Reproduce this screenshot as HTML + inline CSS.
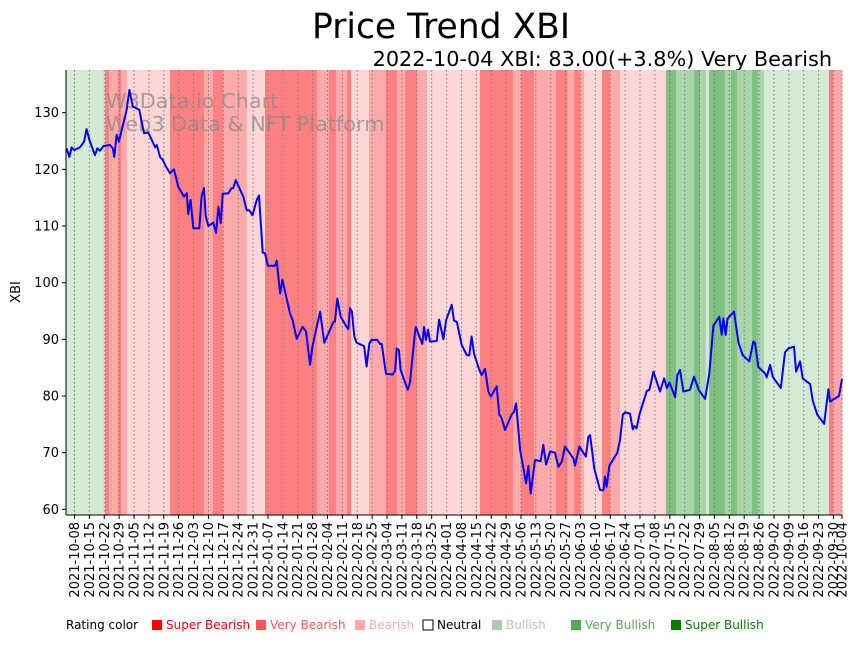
<!DOCTYPE html>
<html><head><meta charset="utf-8"><style>
body{margin:0;background:#fff;}
svg text{font-family:"DejaVu Sans","Liberation Sans",sans-serif;}
</style></head><body>
<svg id="chart" width="860" height="641" xmlns="http://www.w3.org/2000/svg">
<text x="441" y="38" text-anchor="middle" font-size="34.5">Price Trend XBI</text>
<text x="832" y="66" text-anchor="end" font-size="20.8">2022-10-04 XBI: 83.00(+3.8%) Very Bearish</text>
<g id="bands"></g>
<g id="grid"></g>
<text x="106" y="108" font-size="20.8" fill="#888" fill-opacity="0.75">W3Data.io Chart</text>
<text x="106" y="131" font-size="20.8" fill="#888" fill-opacity="0.75">Web3 Data &amp; NFT Platform</text>
<path id="line" fill="none" stroke="#0000ff" stroke-width="2" stroke-linejoin="round"/>
<g id="axes"></g>
<text transform="translate(20,292) rotate(-90)" text-anchor="middle" font-size="13">XBI</text>
<g id="legend">
<text x="66" y="629" font-size="12">Rating color</text>
</g>
</svg>
<script>
const bandStart=[0,18.3,20.2,24.5,25.9,28.7,48.9,64.9,69.1,73.9,85.1,93.6,118.1,123.7,127,132.2,134.1,142.5,150.5,155.7,159.5,165.1,169.8,194.7,210.3,214,220.2,230.5,235.9,238.9,241.8,243.7,252.1,255.9,260.6,282.2,286.9,295.4,298.2,301,302.5,310,312.8,315.6,322.7,325.5,328.3,358.9,360.8];
const bandLevel=[4,0,1,0,1,2,0,1,0,1,2,0,1,0,1,0,2,1,0,1,0,1,2,0,1,0,1,0,1,0,1,2,0,1,2,6,5,6,5,4,6,5,6,5,6,5,4,0,1];
const levelColors=["#ff8080","#ffaaaa","#ffd5d5","#ffffff","#d5ead5","#aad5aa","#80c080"];
const priceDays=[0.3,1.6,2.7,3.8,6.6,8.5,9.7,11,13.6,14.7,16,17.6,20.7,22,22.7,23.8,24.9,27,28.5,29.8,31.4,34.5,36.7,38.7,41.9,42.7,44.2,45.5,47,48.9,50.8,52.8,55.5,56.8,57.5,58.6,59.9,62.7,63.8,64.9,65.7,67,69.3,70.6,71.7,72.8,73.7,76.4,77.9,78.7,79.8,83.4,85,86.2,87.7,89.7,90.8,92.5,93.6,94.9,98.3,99.1,100.7,101.8,105.4,106.6,108.5,111.3,112.9,114.8,115.9,119.5,121.5,125.8,126.5,127.6,129.2,132,132.8,133.6,134.5,135.6,136.7,140.2,141.4,142.7,143.8,146.4,147.7,148.5,150.5,153.7,154.8,155.5,156.6,157.4,160.7,161.8,164.2,164.6,166.2,167.6,168.4,169.3,170.3,171.2,174.4,175.5,177.5,178.8,181.4,182.5,183.8,186.1,188.5,189.7,190.8,191.9,194.4,195.5,197.1,198.7,199.8,202.6,203.8,204.9,206.5,209.6,210.7,211.7,213.6,216.4,217.5,218.6,220.6,223.3,224.5,225.8,227.7,230,231.6,233.2,234.7,238.6,239.4,241.5,244.5,245.7,246.5,248.5,251.2,252.8,253.5,254.3,255.6,259.3,260.6,261.9,263,265.3,266.6,267.2,268.4,269.7,273.2,274.4,276.3,279.4,281.3,282.6,283.8,286.5,287.6,288.8,290.4,293.5,295.4,297.6,300.6,302.6,304.5,307.3,308.4,309.2,310.3,311.2,314.2,316.3,318.3,321.4,323.3,324.1,325.7,328.8,329.6,331.2,332.4,336.2,338.2,339.8,342.4,343.4,345.3,346.5,350,351.2,353.4,356.6,358.6,359.4,361,363.6,365];
const priceValues=[123.7,122.2,123.9,123.4,123.9,124.9,127.1,125.2,122.5,123.7,123.3,124.1,124.3,123.7,122.2,126.1,124.9,128.1,130.5,134,131.1,130.5,126.4,126.5,123.9,124.3,122.2,121.7,120.5,119.3,120,116.9,115.2,115.8,112.1,114.6,109.6,109.6,115.2,116.7,111.7,110,110.6,108.8,113.4,110.5,115.7,115.8,116.7,116.7,118.1,115.2,112.8,112.8,111.9,114.6,115.4,105.3,105.2,103,103,103.9,98.1,100.5,94.5,93.4,90.1,92.2,91.4,85.5,88.7,94.9,89.4,93.1,93.1,97.2,94,92.2,91.8,95.5,94.9,90.5,89.4,88.8,85.2,89.3,89.9,89.9,89.2,89.2,83.9,83.8,84.5,88.4,88.1,84.6,81.1,82.4,91.4,92.2,90.5,89.2,92.2,89.9,91.7,89.6,89.7,93.5,90,93.4,96.1,93.3,93.1,89,87.2,87.2,90.5,87.5,84.6,83.7,84.8,80.8,79.9,81.7,76.7,76.1,74,76.7,77.2,78.7,70.5,64.6,67.7,62.8,68.7,68.5,71.4,67.9,70.2,70,67.5,68.4,71.1,69,67.7,71.1,69.3,72.8,73.1,67.2,63.4,63.4,65.8,64,67.7,70,72.2,76.7,77.1,76.9,74.1,74.7,74.3,76.7,80.9,81.1,84.3,80.8,83.1,81.4,82.4,79.8,83.7,84.6,80.8,81.1,83.4,81.1,79.5,84,92.4,94,90.8,93.7,90.8,93.7,94.9,89.4,87.2,86.1,89.6,89.4,85.1,84,83.3,85.5,83.4,81.4,87.7,88.4,88.7,84.3,86.1,83.1,82.1,79.2,76.7,75.1,81.2,79,79.4,80,83];
const xTickLabels=["2021-10-08","2021-10-15","2021-10-22","2021-10-29","2021-11-05","2021-11-12","2021-11-19","2021-11-26","2021-12-03","2021-12-10","2021-12-17","2021-12-24","2021-12-31","2022-01-07","2022-01-14","2022-01-21","2022-01-28","2022-02-04","2022-02-11","2022-02-18","2022-02-25","2022-03-04","2022-03-11","2022-03-18","2022-03-25","2022-04-01","2022-04-08","2022-04-15","2022-04-22","2022-04-29","2022-05-06","2022-05-13","2022-05-20","2022-05-27","2022-06-03","2022-06-10","2022-06-17","2022-06-24","2022-07-01","2022-07-08","2022-07-15","2022-07-22","2022-07-29","2022-08-05","2022-08-12","2022-08-19","2022-08-26","2022-09-02","2022-09-09","2022-09-16","2022-09-23","2022-09-30","2022-10-04"];
const yTicks=[60,70,80,90,100,110,120,130];
const legendLabels=["Super Bearish","Very Bearish","Bearish","Neutral","Bullish","Very Bullish","Super Bullish"];
const legendColors=["#ff0000","#ff5555","#ffaaaa","#ffffff","#aaccaa","#55aa55","#008000"];

const NS="http://www.w3.org/2000/svg";
const X0=66,X1=842,Y0=70,Y1=515,DAYS=365;
const startDate=Date.UTC(2021,9,4);
const xs=d=>X0+d*(X1-X0)/DAYS;
const ys=p=>112.7+(130-p)*5.666;
function mk(tag,attrs,parent){const e=document.createElementNS(NS,tag);for(const k in attrs)e.setAttribute(k,attrs[k]);parent.appendChild(e);return e;}

const bands=document.getElementById('bands');
bandStart.forEach((s,i)=>{
  const e=i+1<bandStart.length?bandStart[i+1]:DAYS;
  const r=mk('rect',{x:xs(s),y:Y0,width:xs(e)-xs(s)+0.3,height:Y1-Y0,fill:levelColors[bandLevel[i]]},bands);
  
  
});

const grid=document.getElementById('grid'),axes=document.getElementById('axes');
xTickLabels.forEach(lbl=>{
  const d=(Date.parse(lbl+"T00:00:00Z")-startDate)/86400000;
  const x=xs(d);
  const g=mk('line',{x1:x,x2:x,y1:Y0,y2:Y1,stroke:'#777','stroke-width':1,'stroke-dasharray':'1.5,2.5'},grid);
  
  
  const t=mk('line',{x1:x,x2:x,y1:Y1,y2:Y1+4,stroke:'#000'},axes);
  
  
  const tx=mk('text',{transform:`translate(${x+4.5},${Y1+7}) rotate(-90)`,'text-anchor':'end','font-size':13},axes);
  tx.textContent=lbl;
  
  
});
yTicks.forEach(v=>{
  const y=ys(v);
  const t=mk('line',{x1:X0-4,x2:X0,y1:y,y2:y,stroke:'#000'},axes);
  
  
  const tx=mk('text',{x:X0-7,y:y+4.5,'text-anchor':'end','font-size':13},axes);
  tx.textContent=v;
  
  
});
const sp1=mk('line',{x1:X0,x2:X0,y1:Y0,y2:Y1,stroke:'#000','stroke-width':1},axes);


const sp2=mk('line',{x1:X0,x2:X1,y1:Y1,y2:Y1,stroke:'#000','stroke-width':1},axes);



document.getElementById('line').setAttribute('d',priceDays.map((d,i)=>(i?'L':'M')+xs(d).toFixed(1)+','+ys(priceValues[i]).toFixed(1)).join(''));

const legend=document.getElementById('legend');
const legX=[152,256,355,423,492,571,671];
legendLabels.forEach((l,i)=>{
  const r=mk('rect',{x:legX[i],y:620,width:10,height:10,fill:legendColors[i],stroke:i==3?'#000':'none'},legend);
  
  
  const t=mk('text',{x:legX[i]+14,y:629,'font-size':12,fill:i==3?'#000':legendColors[i]},legend);
  t.textContent=l;
  
  
});
</script>
</body></html>
